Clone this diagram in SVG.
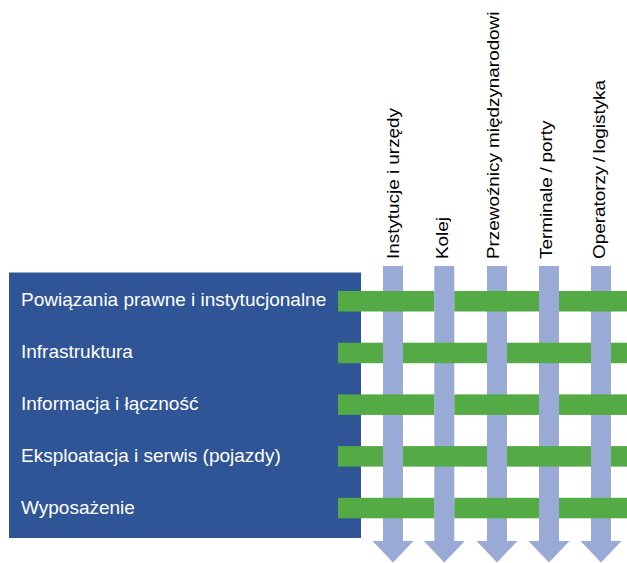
<svg xmlns="http://www.w3.org/2000/svg" width="627" height="563" viewBox="0 0 627 563">
<defs>
<style>
.lbl{font-family:"Liberation Sans",Arial,sans-serif;font-size:19px;fill:#ffffff}
.col{font-family:"Liberation Sans",Arial,sans-serif;font-size:16px;fill:#000000}
.arrow{fill:#9AAAD6}
.bar{fill:#54AA44}
</style>
<path id="arr" d="M-10,0 H10 V275 H20.5 L0,296.5 L-20.5,275 H-10 Z"/>
</defs>
<rect width="627" height="563" fill="#ffffff"/>
<g id="panel">
<rect x="9" y="272.5" width="352" height="265.5" fill="#2F5597"/>
</g>
<g id="connectors">
<g id="columns" class="arrow">
<use href="#arr" x="393" y="266"/>
<use href="#arr" x="444.3" y="266"/>
<use href="#arr" x="497" y="266"/>
<use href="#arr" x="549" y="266"/>
<use href="#arr" x="601" y="266"/>
</g>
<g id="rows" class="bar">
<rect x="338" y="291" width="96.3" height="20.5"/>
<rect x="454.3" y="291" width="84.7" height="20.5"/>
<rect x="559" y="291" width="68" height="20.5"/>
<rect x="338" y="342.7" width="45" height="20.5"/>
<rect x="403" y="342.7" width="84" height="20.5"/>
<rect x="507" y="342.7" width="84" height="20.5"/>
<rect x="611" y="342.7" width="16" height="20.5"/>
<rect x="338" y="394.4" width="96.3" height="20.5"/>
<rect x="454.3" y="394.4" width="84.7" height="20.5"/>
<rect x="559" y="394.4" width="68" height="20.5"/>
<rect x="338" y="446.1" width="45" height="20.5"/>
<rect x="403" y="446.1" width="84" height="20.5"/>
<rect x="507" y="446.1" width="84" height="20.5"/>
<rect x="611" y="446.1" width="16" height="20.5"/>
<rect x="338" y="497.8" width="96.3" height="20.5"/>
<rect x="454.3" y="497.8" width="84.7" height="20.5"/>
<rect x="559" y="497.8" width="68" height="20.5"/>
</g>
</g>
<g id="row-labels">
<g id="r1"><text class="lbl" x="21" y="306">Powiązania prawne i instytucjonalne</text></g>
<g id="r2"><text class="lbl" x="21" y="358">Infrastruktura</text></g>
<g id="r3"><text class="lbl" x="21" y="410">Informacja i łączność</text></g>
<g id="r4"><text class="lbl" x="21" y="462">Eksploatacja i serwis (pojazdy)</text></g>
<g id="r5"><text class="lbl" x="21" y="514">Wyposażenie</text></g>
</g>
<g id="col-labels">
<g id="c1"><text class="col" transform="translate(398.5,259) rotate(-90) scale(1.18,1)">Instytucje i urzędy</text></g>
<g id="c2"><text class="col" transform="translate(447.5,259) rotate(-90) scale(1.18,1)">Kolej</text></g>
<g id="c3"><text class="col" transform="translate(498.5,259) rotate(-90) scale(1.18,1)">Przewoźnicy międzynarodowi</text></g>
<g id="c4"><text class="col" transform="translate(552,259) rotate(-90) scale(1.18,1)">Terminale<tspan dx="4">/</tspan><tspan dx="4">porty</tspan></text></g>
<g id="c5"><text class="col" transform="translate(605,259) rotate(-90) scale(1.18,1)">Operatorzy<tspan dx="3">/</tspan><tspan dx="3">logistyka</tspan></text></g>
</g>
</svg>
